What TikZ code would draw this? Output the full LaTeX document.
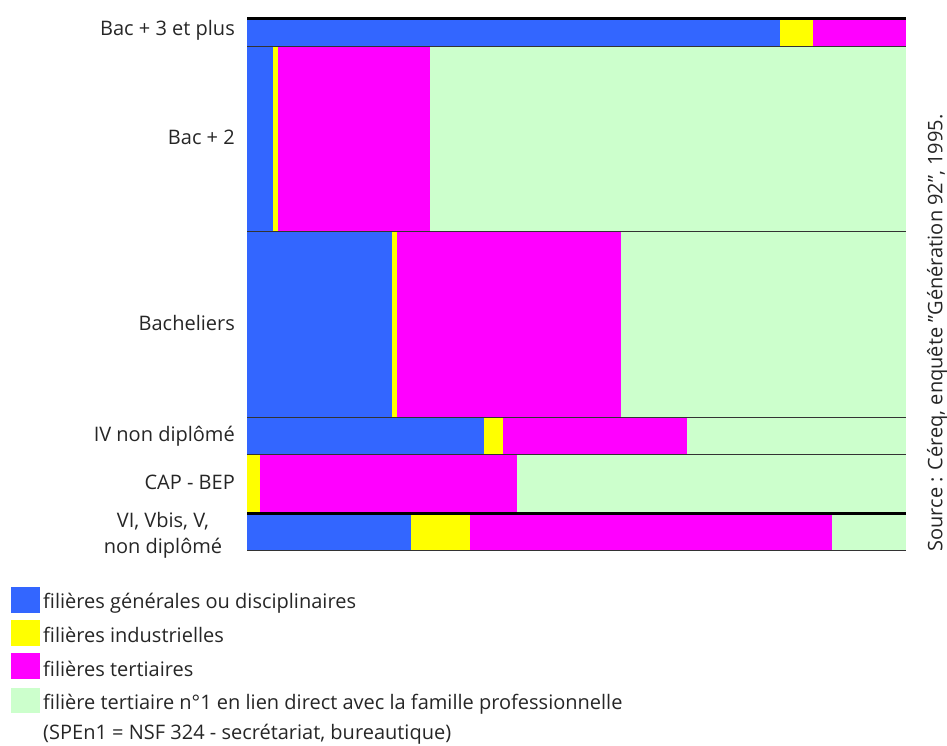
\documentclass[tikz,border=0pt]{standalone}
\usepackage{fontspec}
\setmainfont{Open Sans}
\definecolor{cblue}{HTML}{3366FF}
\definecolor{cyel}{HTML}{FFFF00}
\definecolor{cmag}{HTML}{FF00FF}
\definecolor{cgreen}{HTML}{CCFFCC}
\newcommand{\myfont}{\fontsize{20}{26}\selectfont}
\tikzset{
  lab/.style={anchor=east, inner sep=0pt, font=\myfont, text=black!85},
  leg/.style={anchor=base west, inner sep=0pt, font=\myfont, text=black!85},
  sep/.style={draw=black!80, line width=0.8pt},
  thicksep/.style={draw=black, line width=3pt},
}
\begin{document}
\begin{tikzpicture}[x=1pt,y=-1pt]
\useasboundingbox (0,0) rectangle (947,745);
% Bac + 3 et plus
\fill[cblue] (247,19) rectangle (780,46.5);
\fill[cyel] (780,19) rectangle (813,46.5);
\fill[cmag] (813,19) rectangle (906,46.5);
% Bac + 2
\fill[cblue] (247,46.5) rectangle (273,231.5);
\fill[cyel] (273,46.5) rectangle (278,231.5);
\fill[cmag] (278,46.5) rectangle (430,231.5);
\fill[cgreen] (430,46.5) rectangle (906,231.5);
% Bacheliers
\fill[cblue] (247,231.5) rectangle (392,417.5);
\fill[cyel] (392,231.5) rectangle (397,417.5);
\fill[cmag] (397,231.5) rectangle (621,417.5);
\fill[cgreen] (621,231.5) rectangle (906,417.5);
% IV non diplome
\fill[cblue] (247,417.5) rectangle (484,454.5);
\fill[cyel] (484,417.5) rectangle (503,454.5);
\fill[cmag] (503,417.5) rectangle (687,454.5);
\fill[cgreen] (687,417.5) rectangle (906,454.5);
% CAP - BEP
\fill[cyel] (247,454.5) rectangle (260,513.5);
\fill[cmag] (260,454.5) rectangle (517,513.5);
\fill[cgreen] (517,454.5) rectangle (906,513.5);
% VI, Vbis, V
\fill[cblue] (247,513.5) rectangle (411,550);
\fill[cyel] (411,513.5) rectangle (470,550);
\fill[cmag] (470,513.5) rectangle (832,550);
\fill[cgreen] (832,513.5) rectangle (906,550);
% separators
\draw[thicksep] (247,18) -- (906,18);
\draw[sep] (247,46.5) -- (906,46.5);
\draw[sep] (247,231.5) -- (906,231.5);
\draw[sep] (247,417.5) -- (906,417.5);
\draw[sep] (247,454.5) -- (906,454.5);
\draw[thicksep] (247,513.5) -- (906,513.5);
\draw[sep] (247,550) -- (906,550);
% labels
\node[lab] (l1) at (235,30) {Bac + 3 et plus};
\node[lab] (l2) at (235,137) {Bac + 2};
\node[lab] (l3) at (235,323) {Bacheliers};
\node[lab] (l4) at (235,436) {IV non diplômé};
\node[lab] (l5) at (235,482) {CAP - BEP};
\node[lab, anchor=center, align=center] (l6) at (163,535) {VI, Vbis, V,\\non diplômé};
% source
\node[anchor=center, rotate=90, inner sep=0pt, font=\myfont, text=black!85] (src) at (937,333) {Source : Céreq, enquête "Génération 92", 1995.};
% legend
\fill[cblue] (11,587) rectangle (40,613);
\fill[cyel] (11,620) rectangle (40,646);
\fill[cmag] (11,653) rectangle (40,679);
\fill[cgreen] (11,688) rectangle (40,713);
\node[leg] (t1) at (43,608) {filières générales ou disciplinaires};
\node[leg] (t2) at (43,642) {filières industrielles};
\node[leg] (t3) at (43,676) {filières tertiaires};
\node[leg] (t4) at (43,709) {filière tertiaire n°1 en lien direct avec la famille professionnelle};
\node[leg] (t5) at (43,739) {(SPEn1 = NSF 324 - secrétariat, bureautique)};
\end{tikzpicture}
\end{document}
